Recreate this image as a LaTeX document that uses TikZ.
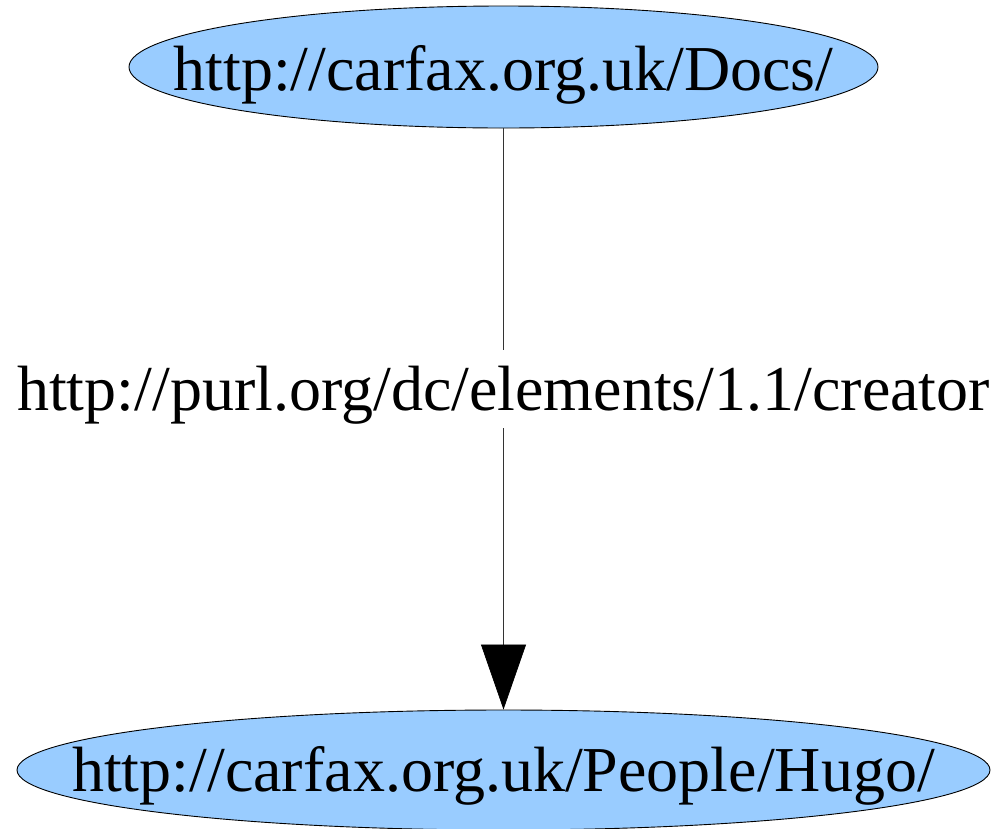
\documentclass[tikz,border=0pt]{standalone}
\usepackage{fontspec}
\setmainfont{Liberation Serif}
\usetikzlibrary{shapes.geometric,arrows.meta}
\definecolor{nodeblue}{HTML}{99CCFF}
\tikzset{
  res/.style={ellipse, draw=black, line width=0.9pt, fill=nodeblue, inner sep=0pt},
  restext/.style={anchor=base, inner sep=0pt, font=\fontsize{64}{77}\selectfont},
  edgelabel/.style={anchor=base, fill=white, inner sep=0pt, text height=60pt, text depth=18pt,
    font=\fontsize{64}{77}\selectfont},
  link/.style={draw=black!80, line width=0.7pt, -{Triangle[length=65pt,width=45pt,color=black]}}
}
\begin{document}
\begin{tikzpicture}[x=1pt,y=-1pt]
\useasboundingbox (0,0) rectangle (1001,828);
\node[res, minimum width=749pt, minimum height=122pt] (docs) at (503.5,67) {};
\node[restext] (docstext) at (503.5,90) {http://carfax.org.uk/Docs/};
\node[res, minimum width=973pt, minimum height=120pt] (hugo) at (503.5,770) {};
\node[restext] (hugotext) at (503.5,791) {http://carfax.org.uk/People/Hugo/};
\draw[link] (docs.south) -- (hugo.north);
\node[edgelabel] (lbl) at (503.5,410) {http://purl.org/dc/elements/1.1/creator};
\end{tikzpicture}
\end{document}
